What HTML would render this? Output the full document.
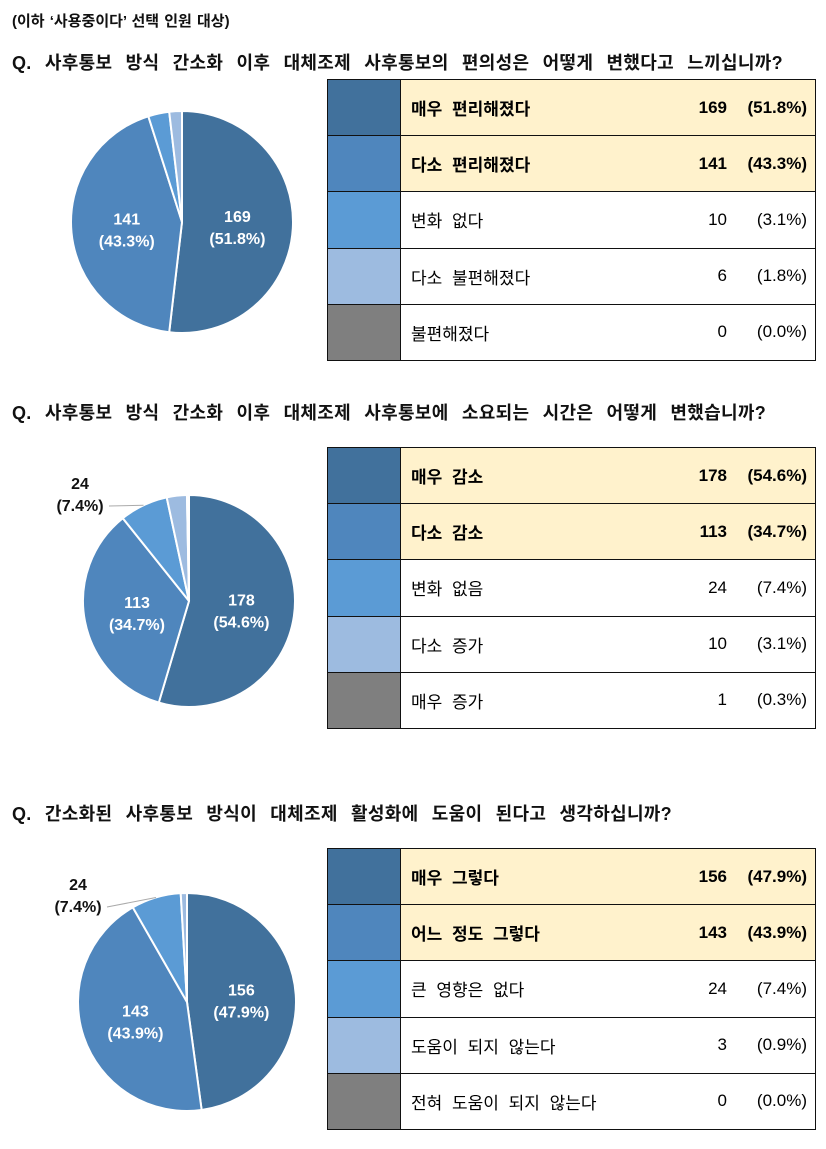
<!DOCTYPE html>
<html><head><meta charset="utf-8">
<style>
body{margin:0;width:826px;height:1149px;background:#fff;font-family:"Liberation Sans","Noto Sans CJK KR",sans-serif;position:relative;overflow:hidden}
.t{position:absolute;left:12px;font-weight:bold;font-size:18px;color:#111;white-space:nowrap;word-spacing:8px;letter-spacing:0.3px}
table{position:absolute;left:327px;width:489px;border-collapse:collapse;font-size:17px;border:1.5px solid #111}
td{border-top:1.5px solid #111;border-bottom:1.5px solid #111;height:55.2px;padding:0}
td.c{width:72px;border-right:1.5px solid #111}
td.l{padding-left:10px;word-spacing:5px}
td.n{text-align:right;width:60px;padding-right:10px}
td.p{text-align:right;width:70px;padding-right:8px}
tr.y td.l,tr.y td.n,tr.y td.p{background:#fff2cc;font-weight:bold}
svg{position:absolute;left:0;top:0}
</style></head><body>
<div class="t" style="top:10px;font-size:15px;word-spacing:1px;letter-spacing:0">(이하 ‘사용중이다’ 선택 인원 대상)</div>
<div class="t" style="top:49px">Q. 사후통보 방식 간소화 이후 대체조제 사후통보의 편의성은 어떻게 변했다고 느끼십니까?</div>
<div class="t" style="top:399px">Q. 사후통보 방식 간소화 이후 대체조제 사후통보에 소요되는 시간은 어떻게 변했습니까?</div>
<div class="t" style="top:800px">Q. 간소화된 사후통보 방식이 대체조제 활성화에 도움이 된다고 생각하십니까?</div>
<div id="tables"></div>
<svg id="pies" width="826" height="1149"></svg>
<script>
const colors=["#41719c","#4f86bd","#5b9bd5","#9dbbe0","#7f7f7f"];
const labels1=["매우 편리해졌다","다소 편리해졌다","변화 없다","다소 불편해졌다","불편해졌다"];
const values1=[169,141,10,6,0];
const pcts1=["51.8%","43.3%","3.1%","1.8%","0.0%"];
const labels2=["매우 감소","다소 감소","변화 없음","다소 증가","매우 증가"];
const values2=[178,113,24,10,1];
const pcts2=["54.6%","34.7%","7.4%","3.1%","0.3%"];
const labels3=["매우 그렇다","어느 정도 그렇다","큰 영향은 없다","도움이 되지 않는다","전혀 도움이 되지 않는다"];
const values3=[156,143,24,3,0];
const pcts3=["47.9%","43.9%","7.4%","0.9%","0.0%"];
const charts=[
 {labels:labels1,values:values1,pcts:pcts1,top:79,cx:182,cy:222,r:111,outside:-1},
 {labels:labels2,values:values2,pcts:pcts2,top:447,cx:189,cy:601,r:106,outside:2},
 {labels:labels3,values:values3,pcts:pcts3,top:848,cx:187,cy:1002,r:109,outside:2}
];
const svg=document.getElementById('pies');
const NS="http://www.w3.org/2000/svg";
charts.forEach((c,ci)=>{
 const tb=document.createElement('table');
 tb.style.top=c.top+'px';
 
 
 c.labels.forEach((lb,i)=>{
  const tr=document.createElement('tr');
  if(i<2)tr.className='y';
  
  
  tr.innerHTML='<td class="c" style="background:'+colors[i]+'"></td><td class="l">'+lb+'</td><td class="n">'+c.values[i]+'</td><td class="p">('+c.pcts[i]+')</td>';
  tb.appendChild(tr);
 });
 document.getElementById('tables').appendChild(tb);
 const tot=c.values.reduce((a,b)=>a+b,0);
 let a=-Math.PI/2;
 c.values.forEach((v,i)=>{
  if(v<=0)return;
  const da=v/tot*2*Math.PI;
  const a2=a+da;
  const x1=c.cx+c.r*Math.cos(a),y1=c.cy+c.r*Math.sin(a);
  const x2=c.cx+c.r*Math.cos(a2),y2=c.cy+c.r*Math.sin(a2);
  const p=document.createElementNS(NS,'path');
  p.setAttribute('d',`M${c.cx},${c.cy}L${x1},${y1}A${c.r},${c.r} 0 ${da>Math.PI?1:0} 1 ${x2},${y2}Z`);
  p.setAttribute('fill',colors[i]);p.setAttribute('stroke','#fff');p.setAttribute('stroke-width','2');
  
  
  svg.appendChild(p);
  const m=(a+a2)/2;
  if(i<2){
   const lx=c.cx+c.r*0.5*Math.cos(m),ly=c.cy+c.r*0.5*Math.sin(m);
   [String(v),'('+c.pcts[i]+')'].forEach((s,k)=>{
    const t=document.createElementNS(NS,'text');
    t.setAttribute('x',lx);t.setAttribute('y',ly-3+k*22);
    t.setAttribute('text-anchor','middle');t.setAttribute('fill','#fff');
    t.setAttribute('font-size','16');t.setAttribute('font-weight','bold');
    t.setAttribute('font-family','Liberation Sans, sans-serif');
    t.textContent=s;
    
    
    svg.appendChild(t);
   });
  } else if(i===c.outside){
   const ex=c.cx+c.r*Math.cos(m),ey=c.cy+c.r*Math.sin(m);
   const ln=document.createElementNS(NS,'polyline');
   ln.setAttribute('points',`${ex},${ey} ${c.cx-80},${c.cy-95}`);
   ln.setAttribute('stroke','#aaa');ln.setAttribute('fill','none');
   
   
   svg.appendChild(ln);
   [String(v),'('+c.pcts[i]+')'].forEach((s,k)=>{
    const t=document.createElementNS(NS,'text');
    t.setAttribute('x',c.cx-109);t.setAttribute('y',c.cy-112+k*22);
    t.setAttribute('text-anchor','middle');t.setAttribute('fill','#111');
    t.setAttribute('font-size','16');t.setAttribute('font-weight','bold');
    t.setAttribute('font-family','Liberation Sans, sans-serif');
    t.textContent=s;
    
    
    svg.appendChild(t);
   });
  }
  a=a2;
 });
});
</script>
</body></html>
